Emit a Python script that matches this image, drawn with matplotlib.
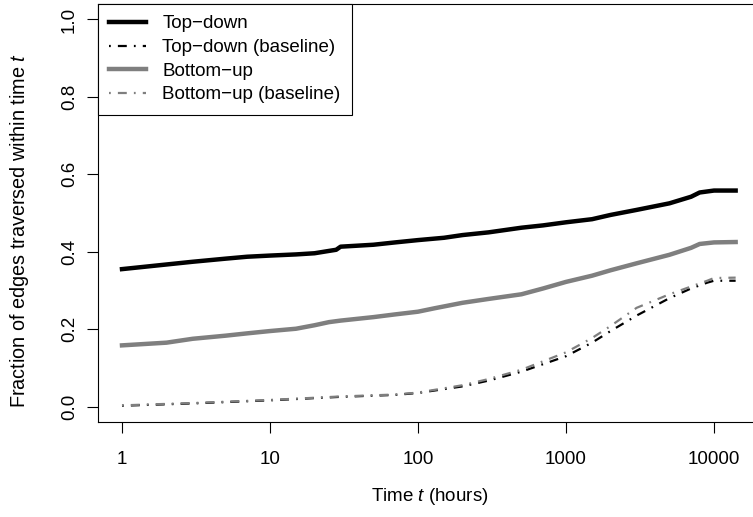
import matplotlib
matplotlib.use("Agg")
import matplotlib.pyplot as plt
import numpy as np

plt.rcParams.update({
    "font.family": ["Liberation Sans", "DejaVu Sans"],
    "font.size": 13.5,
    "mathtext.fontset": "custom",
    "mathtext.rm": "Liberation Sans",
    "mathtext.it": "Liberation Sans:italic",
})

# Top-down
td_t = [1, 2, 3, 5, 7, 10, 15, 20, 25, 28, 30, 50, 70, 100, 150, 200, 300,
        500, 700, 1000, 1500, 2000, 3000, 5000, 7000, 8000, 10000, 14000]
td_y = [0.355, 0.367, 0.374, 0.382, 0.387, 0.390, 0.393, 0.396, 0.402, 0.405,
        0.413, 0.418, 0.424, 0.430, 0.436, 0.443, 0.450, 0.462, 0.468, 0.476,
        0.484, 0.495, 0.508, 0.525, 0.542, 0.553, 0.558, 0.558]

# Bottom-up
bu_t = [1, 2, 3, 5, 7, 10, 15, 20, 25, 30, 50, 70, 100, 130, 200, 300, 500,
        700, 1000, 1500, 2000, 3000, 5000, 7000, 8000, 10000, 14000]
bu_y = [0.158, 0.165, 0.175, 0.183, 0.189, 0.195, 0.201, 0.210, 0.218, 0.222,
        0.231, 0.238, 0.245, 0.254, 0.268, 0.278, 0.290, 0.305, 0.322, 0.338,
        0.352, 0.370, 0.392, 0.410, 0.420, 0.424, 0.425]

# baselines
base_t = [1, 3, 10, 30, 70, 100, 200, 300, 500, 1000, 1500, 2000, 3000, 5000,
          7000, 9000, 10000, 14000]
td_base = [0.002, 0.008, 0.016, 0.025, 0.030, 0.035, 0.052, 0.067, 0.090,
           0.130, 0.165, 0.195, 0.235, 0.280, 0.305, 0.320, 0.325, 0.325]
bu_base = [0.003, 0.009, 0.017, 0.026, 0.031, 0.036, 0.055, 0.071, 0.095,
           0.140, 0.177, 0.208, 0.255, 0.290, 0.310, 0.325, 0.332, 0.333]

xticks = [1, 10, 100, 1000, 10000]
yticks = [0.0, 0.2, 0.4, 0.6, 0.8, 1.0]

gray = "#7f7f7f"
dotdash = (0, (0.8, 3.2, 4, 3.2))

fig = plt.figure(figsize=(7.53, 5.17), dpi=100)
ax = fig.add_axes([97.5 / 753, 1 - 422 / 517, (763 - 97.5) / 753, 418 / 517])

ax.plot(td_t, td_y, color="black", lw=3.2, label="Top\u2212down")
ax.plot(base_t, td_base, color="black", lw=1.6, ls=dotdash,
        label="Top\u2212down (baseline)")
ax.plot(bu_t, bu_y, color=gray, lw=3.2, label="Bottom\u2212up")
ax.plot(base_t, bu_base, color=gray, lw=1.6, ls=dotdash,
        label="Bottom\u2212up (baseline)")

ax.set_xscale("log")
ax.set_xlim(10 ** -0.1655, 10 ** 4.331)
ax.set_ylim(-0.04, 1.04)
ax.set_xticks(xticks)
ax.set_xticklabels([str(v) for v in xticks])
ax.minorticks_off()
ax.set_yticks(yticks)
ax.set_yticklabels(["%.1f" % v for v in yticks], rotation=90, va="center")

for s in ax.spines.values():
    s.set_linewidth(0.8)
ax.tick_params(length=8, width=0.8, direction="out")
ax.tick_params(axis="x", pad=13)
ax.tick_params(axis="y", pad=6)

ax.set_xlabel("Time $t$ (hours)", labelpad=13)
ax.set_ylabel("Fraction of edges traversed within time $t$", va="center",
              fontsize=14.3)
ax.yaxis.set_label_coords((20 - 97.5) / 665.5, (422 - 230) / 418)

leg = ax.legend(loc="upper left", bbox_to_anchor=(0, 1), borderaxespad=0,
                fancybox=False, edgecolor="black", framealpha=1,
                handlelength=2.0, handletextpad=0.85, labelspacing=0.35,
                borderpad=0.6)
leg.get_frame().set_linewidth(0.8)

plt.savefig("out.png", dpi=100)
